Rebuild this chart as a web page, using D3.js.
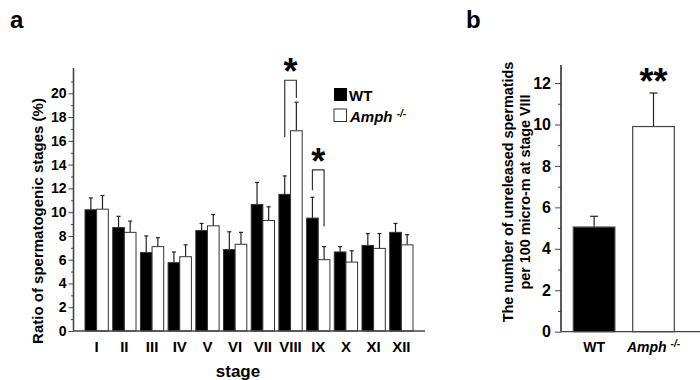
<!DOCTYPE html>
<html lang="en">
  <head>
    <meta charset="utf-8">
    <title>Spermatogenic stages</title>
    <script src="https://cdn.jsdelivr.net/npm/d3@7"></script>
    <style>
      body { margin: 0; background: white; }
      text {
        font-family: "Liberation Sans", Arial, Helvetica, sans-serif;
        font-weight: bold;
        fill: black;
      }
    </style>
  </head>
  <body>
    <script>

        var w = 700;
        var h = 380;

        // panel a data
        var stages = ["I", "II", "III", "IV", "V", "VI", "VII", "VIII", "IX", "X", "XI", "XII"];
        var wtMean   = [10.2, 8.7, 6.6, 5.75, 8.45, 6.85, 10.65, 11.5, 9.5, 6.65, 7.2, 8.3];
        var wtErr    = [1.0, 0.95, 1.4, 0.9, 0.6, 1.5, 1.85, 1.55, 1.75, 0.45, 1.0, 0.75];
        var amphMean = [10.25, 8.3, 7.1, 6.25, 8.85, 7.3, 9.3, 16.85, 6.0, 5.8, 6.95, 7.25];
        var amphErr  = [1.15, 0.95, 0.75, 1.0, 0.95, 1.0, 1.15, 2.4, 1.1, 0.95, 1.25, 0.85];
        var yTicksA  = [0, 2, 4, 6, 8, 10, 12, 14, 16, 18, 20];

        // significance brackets: top of bracket and where each leg ends
        var brackets = [
          { stage: "VIII", top: 21.1, left: 16.3, right: 19.6, mark: "*" },
          { stage: "IX",   top: 13.55, left: 11.85, right: 8.8, mark: "*" }
        ];

        // panel b data
        var groupsB  = ["WT", "Amph"];
        var meanB    = [5.05, 9.9];
        var errB     = [0.52, 1.62];
        var yTicksB  = [0, 2, 4, 6, 8, 10, 12];

        var axisColor = "#444";

        var svg = d3.select("body")
                    .append("svg")
                    .attr("width", w)
                    .attr("height", h);

        // ---------- panel a ----------
        var yA = d3.scaleLinear().domain([0, 22.13]).range([331, 68]);
        var xA = d3.scaleBand()
                   .domain(stages)
                   .range([82.8, 415.2])
                   .paddingInner(0.159)
                   .paddingOuter(0.08);
        var xSub = d3.scaleBand()
                     .domain(["wt", "amph"])
                     .range([0, xA.bandwidth()]);

        var rowsA = stages.map(function(s, i) {
          return [
            { stage: s, key: "wt", v: wtMean[i], e: wtErr[i] },
            { stage: s, key: "amph", v: amphMean[i], e: amphErr[i] }
          ];
        });
        var flatA = d3.merge(rowsA);

        // error bars (upward only) drawn behind bars
        var eb = svg.append("g").attr("stroke", "#222").attr("stroke-width", 1.2);
        eb.selectAll("line.v").data(flatA).enter().append("line")
          .attr("x1", function(d) { return xA(d.stage) + xSub(d.key) + xSub.bandwidth() / 2; })
          .attr("x2", function(d) { return xA(d.stage) + xSub(d.key) + xSub.bandwidth() / 2; })
          .attr("y1", function(d) { return yA(d.v); })
          .attr("y2", function(d) { return yA(d.v + d.e); });
        eb.selectAll("line.c").data(flatA).enter().append("line")
          .attr("x1", function(d) { return xA(d.stage) + xSub(d.key) + xSub.bandwidth() / 2 - 2; })
          .attr("x2", function(d) { return xA(d.stage) + xSub(d.key) + xSub.bandwidth() / 2 + 2; })
          .attr("y1", function(d) { return yA(d.v + d.e); })
          .attr("y2", function(d) { return yA(d.v + d.e); });

        svg.append("g").selectAll("rect").data(flatA).enter().append("rect")
          .attr("x", function(d) { return xA(d.stage) + xSub(d.key); })
          .attr("y", function(d) { return yA(d.v); })
          .attr("width", xSub.bandwidth())
          .attr("height", function(d) { return yA(0) - yA(d.v); })
          .attr("fill", function(d) { return d.key == "wt" ? "black" : "white"; })
          .attr("stroke", "#333")
          .attr("stroke-width", 1);

        // y axis a
        var axA = svg.append("g").attr("transform", "translate(73.5,0)");
        axA.call(d3.axisLeft(yA).tickValues(yTicksA).tickSize(5).tickPadding(2));
        axA.append("g").call(d3.axisLeft(yA).tickValues(d3.range(1, 23, 2)).tickSize(2.5).tickFormat(""));
        axA.selectAll("path").attr("stroke", axisColor).attr("stroke-width", 1.3);
        axA.selectAll("line").attr("stroke", axisColor);
        axA.selectAll(".domain").attr("d", "M0," + yA(0) + "V68");
        axA.selectAll("text").attr("font-size", 14).attr("font-family", null);

        // x baseline and stage labels
        svg.append("line")
           .attr("x1", 73.5).attr("x2", 425)
           .attr("y1", yA(0)).attr("y2", yA(0))
           .attr("stroke", axisColor).attr("stroke-width", 1.3);
        svg.append("g").selectAll("text").data(stages).enter().append("text")
           .attr("x", function(d) { return xA(d) + xA.bandwidth() / 2; })
           .attr("y", 352)
           .attr("text-anchor", "middle")
           .attr("font-size", 15)
           .text(function(d) { return d; });

        svg.append("text")
           .attr("x", 238).attr("y", 377)
           .attr("text-anchor", "middle")
           .attr("font-size", 17)
           .text("stage");

        svg.append("text")
           .attr("transform", "translate(43,221) rotate(-90)")
           .attr("text-anchor", "middle")
           .attr("font-size", 15)
           .text("Ratio of spermatogenic stages (%)");

        // brackets with asterisks
        var br = svg.append("g");
        brackets.forEach(function(b) {
          var xl = xA(b.stage) + xSub("wt") + xSub.bandwidth() / 2;
          var xr = xA(b.stage) + xSub("amph") + xSub.bandwidth() / 2;
          br.append("path")
            .attr("d", "M" + xl + "," + yA(b.left) + "V" + yA(b.top) + "H" + xr + "V" + yA(b.right))
            .attr("fill", "none")
            .attr("stroke", "#333")
            .attr("stroke-width", 1.2);
          br.append("text")
            .attr("x", (xl + xr) / 2)
            .attr("y", yA(b.top) + 4)
            .attr("text-anchor", "middle")
            .attr("font-size", 36)
            .text(b.mark);
        });

        // legend
        var lg = svg.append("g").attr("transform", "translate(334,88)");
        lg.append("rect").attr("width", 13).attr("height", 13).attr("fill", "black");
        lg.append("text").attr("x", 15).attr("y", 12.5).attr("font-size", 15).text("WT");
        lg.append("rect").attr("y", 21).attr("width", 12.5).attr("height", 12.5)
          .attr("fill", "white").attr("stroke", "#333").attr("stroke-width", 1);
        var lt = lg.append("text").attr("x", 16).attr("y", 33.5).attr("font-size", 15).attr("font-style", "italic");
        lt.append("tspan").text("Amph ");
        lt.append("tspan").attr("dy", -5).attr("font-size", 10).text("-/-");

        svg.append("text").attr("x", 10).attr("y", 28).attr("font-size", 24).text("a");

        // ---------- panel b ----------
        var yB = d3.scaleLinear().domain([0, 12.87]).range([331.7, 65]);
        var xB = d3.scaleBand()
                   .domain(groupsB)
                   .range([560.7, 686.9])
                   .paddingInner(0.3)
                   .paddingOuter(0.212);

        var rowsB = groupsB.map(function(g, i) { return { g: g, v: meanB[i], e: errB[i] }; });

        var ebB = svg.append("g").attr("stroke", "#222").attr("stroke-width", 1.2);
        ebB.selectAll("line.v").data(rowsB).enter().append("line")
           .attr("x1", function(d) { return xB(d.g) + xB.bandwidth() / 2; })
           .attr("x2", function(d) { return xB(d.g) + xB.bandwidth() / 2; })
           .attr("y1", function(d) { return yB(d.v); })
           .attr("y2", function(d) { return yB(d.v + d.e); });
        ebB.selectAll("line.c").data(rowsB).enter().append("line")
           .attr("x1", function(d) { return xB(d.g) + xB.bandwidth() / 2 - 4; })
           .attr("x2", function(d) { return xB(d.g) + xB.bandwidth() / 2 + 4; })
           .attr("y1", function(d) { return yB(d.v + d.e); })
           .attr("y2", function(d) { return yB(d.v + d.e); });

        svg.append("g").selectAll("rect").data(rowsB).enter().append("rect")
           .attr("x", function(d) { return xB(d.g); })
           .attr("y", function(d) { return yB(d.v); })
           .attr("width", xB.bandwidth())
           .attr("height", function(d) { return yB(0) - yB(d.v); })
           .attr("fill", function(d, i) { return i == 0 ? "black" : "white"; })
           .attr("stroke", "#444")
           .attr("stroke-width", 1.2);

        var axB = svg.append("g").attr("transform", "translate(561,0)");
        axB.call(d3.axisLeft(yB).tickValues(yTicksB).tickSize(6).tickPadding(4));
        axB.append("g").call(d3.axisLeft(yB).tickValues(d3.range(1, 13, 2)).tickSize(3).tickFormat(""));
        axB.selectAll("path").attr("stroke", axisColor).attr("stroke-width", 1.3);
        axB.selectAll("line").attr("stroke", axisColor);
        axB.selectAll(".domain").attr("d", "M0," + yB(0) + "V65");
        axB.selectAll("text").attr("font-size", 16).attr("font-family", null);

        svg.append("line")
           .attr("x1", 561).attr("x2", 700)
           .attr("y1", yB(0)).attr("y2", yB(0))
           .attr("stroke", axisColor).attr("stroke-width", 1.3);

        svg.append("text")
           .attr("x", xB("WT") + xB.bandwidth() / 2).attr("y", 352)
           .attr("text-anchor", "middle").attr("font-size", 14)
           .text("WT");
        var bt = svg.append("text")
           .attr("x", xB("Amph") + xB.bandwidth() / 2).attr("y", 352)
           .attr("text-anchor", "middle").attr("font-size", 14).attr("font-style", "italic");
        bt.append("tspan").text("Amph ");
        bt.append("tspan").attr("dy", -5).attr("font-size", 10).text("-/-");

        svg.append("text")
           .attr("x", xB("Amph") + xB.bandwidth() / 2)
           .attr("y", yB(meanB[1] + errB[1]) + 1)
           .attr("text-anchor", "middle")
           .attr("font-size", 36)
           .text("**");

        var yl = svg.append("text")
           .attr("transform", "translate(513,192) rotate(-90)")
           .attr("text-anchor", "middle")
           .attr("font-size", 14.4);
        yl.append("tspan").attr("x", 0).text("The number of unreleased spermatids");
        yl.append("tspan").attr("x", 0).attr("dy", 16.5).text("per 100 micro-m at stage VIII");

        svg.append("text").attr("x", 466).attr("y", 28).attr("font-size", 24).text("b");

    </script>
  </body>
</html>
